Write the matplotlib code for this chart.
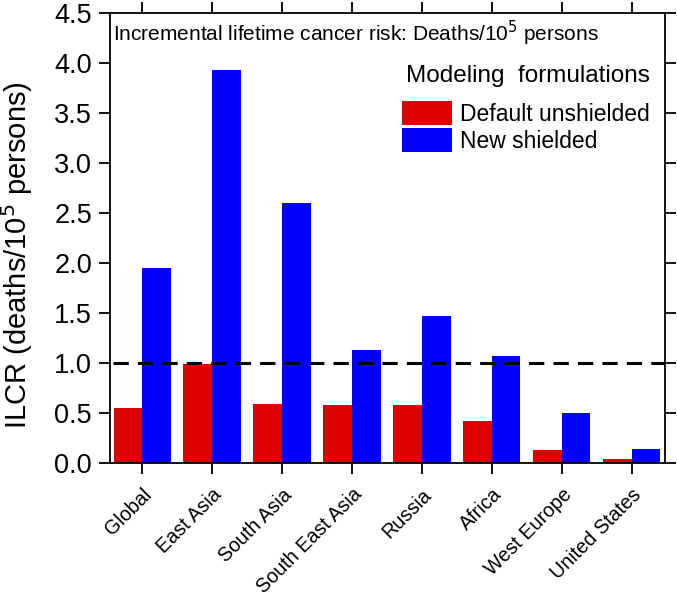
import numpy as np
import matplotlib
matplotlib.use("Agg")
import matplotlib.pyplot as plt
from matplotlib.transforms import ScaledTranslation

plt.rcParams['font.family'] = ['Liberation Sans', 'DejaVu Sans']

# data
regions = ["Global", "East Asia", "South Asia", "South East Asia",
           "Russia", "Africa", "West Europe", "United States"]
default_unshielded = [0.55, 0.99, 0.59, 0.58, 0.58, 0.42, 0.13, 0.04]
new_shielded = [1.95, 3.93, 2.60, 1.13, 1.47, 1.07, 0.50, 0.14]
yticks = [0.0, 0.5, 1.0, 1.5, 2.0, 2.5, 3.0, 3.5, 4.0, 4.5]
threshold = 1.0

fig = plt.figure(figsize=(6.77, 5.98), dpi=100)
ax = fig.add_axes([0.1625, 0.226, 0.82, 0.752])

x = np.arange(len(regions))
w = 0.41
ax.bar(x - w / 2, default_unshielded, w, color="#dd0000", label="Default unshielded")
ax.bar(x + w / 2, new_shielded, w, color="#0000ff", label="New shielded")

ax.axhline(threshold, color="black", lw=2.2, ls=(0, (5, 3)), xmin=0.005, zorder=3)

ax.set_xlim(-0.46, 7.48)
ax.set_ylim(0, 4.5)
ax.set_yticks(yticks)
ax.set_yticklabels([f"{v:.1f}" for v in yticks], fontsize=19.5)
ax.set_xticks(x)
ax.set_xticklabels(regions, rotation=45, ha="right", va="top",
                   rotation_mode="anchor", fontsize=14.2)
# labels sit a bit right of their ticks in the original
shift = ScaledTranslation(11 / 100, 0, fig.dpi_scale_trans)
for lab in ax.get_xticklabels():
    lab.set_transform(lab.get_transform() + shift)
ax.tick_params(axis="both", direction="out", length=8, width=1.3,
               top=True, right=True, labeltop=False, labelright=False)
ax.tick_params(axis="x", pad=8)
ax.tick_params(axis="y", pad=5)
for s in ax.spines.values():
    s.set_linewidth(1.3)

ax.set_ylabel("ILCR (deaths/10$^5$ persons)", fontsize=21)
ax.yaxis.set_label_coords(-0.135, 0.462)

ax.text(0.005, 0.987, "Incremental lifetime cancer risk: Deaths/10$^5$ persons",
        transform=ax.transAxes, ha="left", va="top", fontsize=15)

leg = ax.legend(title="Modeling  formulations", loc="upper right",
                bbox_to_anchor=(0.989, 0.905), frameon=False, fontsize=16.5,
                title_fontsize=17.5, handlelength=2.2, handleheight=1.25,
                labelspacing=0.1, handletextpad=0.35, borderaxespad=0.0,
                borderpad=0.4)
leg._legend_box.align = "right"
leg._legend_box.sep = 10

fig.savefig("out.png", dpi=100)
